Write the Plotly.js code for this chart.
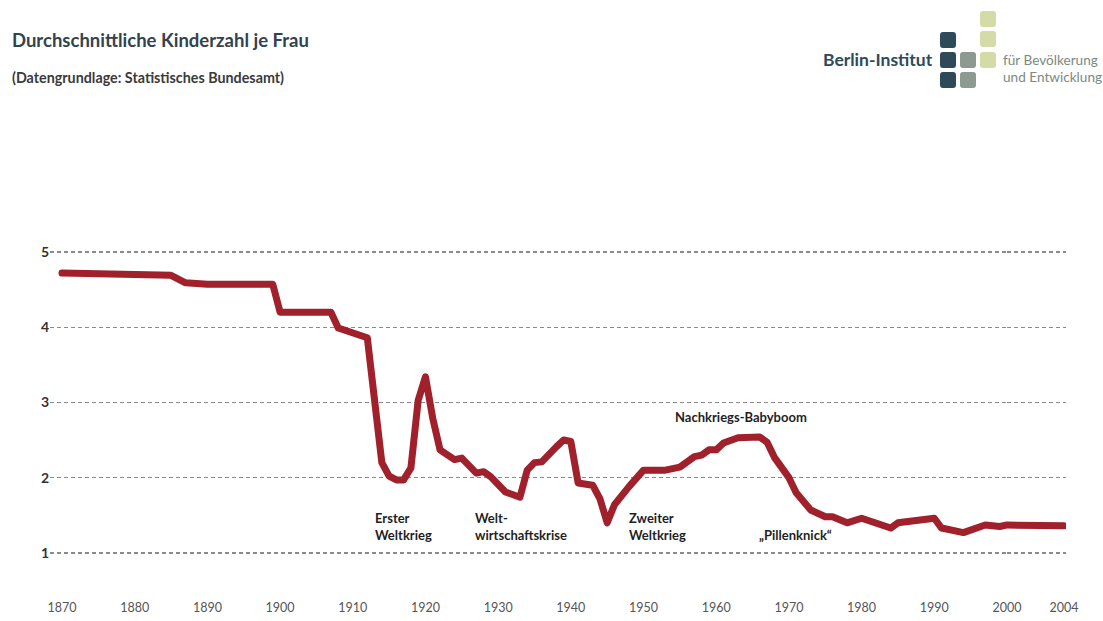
<!DOCTYPE html>
<html>
<head>
<meta charset="utf-8">
<script src="https://cdn.plot.ly/plotly-3.0.1.min.js"></script>
<style>
  html, body { margin: 0; padding: 0; background: #ffffff; }
  #chart { width: 1103px; height: 621px; }
  .js-line { stroke-linejoin: round !important; stroke-linecap: round !important; }
</style>
</head>
<body>
<div id="chart"></div>
<script>
// ---- Data ----
const years = [1870, 1885, 1887, 1890, 1899, 1900, 1907, 1908, 1912, 1914, 1915, 1916, 1917, 1918, 1919, 1920,
  1921, 1922, 1924, 1925, 1927, 1928, 1929, 1931, 1933, 1934, 1935, 1936, 1938, 1939, 1940, 1941, 1943, 1944,
  1945, 1946, 1948, 1950, 1953, 1955, 1957, 1958, 1959, 1960, 1961, 1963, 1966, 1967, 1968, 1970, 1971, 1973,
  1975, 1976, 1978, 1980, 1984, 1985, 1990, 1991, 1994, 1997, 1999, 2000, 2004];
const kinderzahl = [4.72, 4.69, 4.59, 4.57, 4.57, 4.20, 4.20, 3.99, 3.86, 2.20, 2.02, 1.97, 1.97, 2.13, 3.03, 3.34,
  2.79, 2.37, 2.24, 2.26, 2.06, 2.08, 2.01, 1.81, 1.74, 2.10, 2.20, 2.21, 2.41, 2.50, 2.48, 1.93, 1.90, 1.72,
  1.40, 1.64, 1.88, 2.10, 2.10, 2.14, 2.28, 2.30, 2.37, 2.37, 2.46, 2.53, 2.54, 2.47, 2.27, 2.00, 1.80, 1.57,
  1.48, 1.48, 1.40, 1.46, 1.33, 1.40, 1.46, 1.33, 1.27, 1.37, 1.35, 1.37, 1.36];
// The reference uses a wider scale for the last span 2000–2004 (broken axis)
const axisBreakYear = 2000;
const xTickVals = [1870, 1880, 1890, 1900, 1910, 1920, 1930, 1940, 1950, 1960, 1970, 1980, 1990, 2000];
const xTickText = ["1870", "1880", "1890", "1900", "1910", "1920", "1930", "1940", "1950", "1960", "1970", "1980", "1990", "2000"];
const x2TickVals = [2004];
const x2TickText = ["2004"];
const yTickVals = [1, 2, 3, 4, 5];
const yTickText = ["1", "2", "3", "4", "5"];
const eventLabels = ["Erster<br>Weltkrieg", "Welt-<br>wirtschaftskrise", "Zweiter<br>Weltkrieg", "Nachkriegs-Babyboom", "\u201EPillenknick\u201C"];
const eventYears = [1912.8, 1926.5, 1947.7, 1954.0, 1965.6];
const eventValues = [1.35, 1.35, 1.35, 2.81, 1.24];

// ---- Layout geometry ----
const W = 1103, H = 621;
const M = { l: 50, r: 37, t: 245, b: 26 };
const plotW = W - M.l - M.r, plotH = H - M.t - M.b;
const px = x => (x - M.l) / plotW;
const py = y => (H - M.b - y) / plotH;
const breakPaper = px(1007);

function roundRect(cx, cy, s, r) {
  const x0 = cx - s / 2, x1 = cx + s / 2, y0 = cy - s / 2, y1 = cy + s / 2;
  const P = (x, y) => px(x).toFixed(5) + ',' + py(y).toFixed(5);
  return 'M' + P(x0 + r, y0) + ' L' + P(x1 - r, y0) + ' Q' + P(x1, y0) + ' ' + P(x1, y0 + r) +
    ' L' + P(x1, y1 - r) + ' Q' + P(x1, y1) + ' ' + P(x1 - r, y1) +
    ' L' + P(x0 + r, y1) + ' Q' + P(x0, y1) + ' ' + P(x0, y1 - r) +
    ' L' + P(x0, y0 + r) + ' Q' + P(x0, y0) + ' ' + P(x0 + r, y0) + ' Z';
}
const logoSquares = [
  [948, 40, '#2e4a58'], [948, 60, '#2e4a58'], [948, 80, '#2e4a58'],
  [968, 60, '#8c9a90'], [968, 80, '#8c9a90'],
  [988, 19, '#d5dba6'], [988, 39, '#d5dba6'], [988, 60, '#d5dba6']
];
const shapes = logoSquares.map(s => ({
  type: 'path', xref: 'paper', yref: 'paper', path: roundRect(s[0], s[1], 16, 3),
  fillcolor: s[2], line: { width: 0 }
}));

const headerFont = 'Lato, "Open Sans", sans-serif';
const annotations = [
  { text: 'Durchschnittliche Kinderzahl je Frau', x: px(10), y: py(40), xanchor: 'left', yanchor: 'middle',
    font: { family: headerFont, size: 18.5, color: '#33434e', weight: 700 } },
  { text: '(Datengrundlage: Statistisches Bundesamt)', x: px(10), y: py(77), xanchor: 'left', yanchor: 'middle',
    font: { family: headerFont, size: 14.3, color: '#3a3a3a', weight: 700 } },
  { text: 'Berlin-Institut', x: px(935), y: py(59), xanchor: 'right', yanchor: 'middle',
    font: { family: headerFont, size: 17.5, color: '#2e4a58', weight: 700 } },
  { text: 'für Bevölkerung', x: px(1001), y: py(60), xanchor: 'left', yanchor: 'middle',
    font: { family: headerFont, size: 13.6, color: '#7b8a80' } },
  { text: 'und Entwicklung', x: px(1001), y: py(77), xanchor: 'left', yanchor: 'middle',
    font: { family: headerFont, size: 13.6, color: '#7b8a80' } }
].map(a => Object.assign({ xref: 'paper', yref: 'paper', showarrow: false, align: 'left' }, a));

eventLabels.forEach((t, i) => annotations.push({
  text: t, x: eventYears[i], y: eventValues[i], xref: 'x', yref: 'y', showarrow: false,
  xanchor: 'left', yanchor: 'middle', align: 'left',
  font: { family: headerFont, size: 13, color: '#1f1f1f', weight: 700 }
}));

const seg1 = years.map((y, i) => i).filter(i => years[i] <= axisBreakYear);
const seg2 = years.map((y, i) => i).filter(i => years[i] >= axisBreakYear);
const lineStyle = { color: '#a0202c', width: 7 };
const traces = [
  { x: seg1.map(i => years[i]), y: seg1.map(i => kinderzahl[i]), type: 'scatter', mode: 'lines',
    line: lineStyle, xaxis: 'x', yaxis: 'y' },
  { x: seg2.map(i => years[i]), y: seg2.map(i => kinderzahl[i]), type: 'scatter', mode: 'lines',
    line: lineStyle, xaxis: 'x2', yaxis: 'y' }
];

const tickFontX = { family: headerFont, size: 12.5, color: '#555555' };
const layout = {
  width: W, height: H,
  margin: M,
  paper_bgcolor: '#ffffff', plot_bgcolor: '#ffffff',
  showlegend: false,
  xaxis: {
    domain: [0, breakPaper], range: [1868.35, 2000], tickmode: 'array', tickvals: xTickVals, ticktext: xTickText,
    showgrid: false, zeroline: false, showline: false, ticks: '', tickangle: 0, anchor: 'y',
    ticklabelstandoff: 3, tickfont: tickFontX
  },
  xaxis2: {
    domain: [breakPaper, 1], range: [2000, 2004.14], tickmode: 'array', tickvals: x2TickVals, ticktext: x2TickText,
    showgrid: false, zeroline: false, showline: false, ticks: '', tickangle: 0, anchor: 'y',
    ticklabelstandoff: 3, tickfont: tickFontX
  },
  yaxis: {
    range: [0.44, 5.093], tickmode: 'array', tickvals: yTickVals, ticktext: yTickText, anchor: 'x',
    showgrid: true, gridcolor: '#8a8a8a', gridwidth: 1.4, griddash: '4px,3px',
    zeroline: false, showline: false, ticks: '',
    tickfont: { family: headerFont, size: 14, color: '#333333', weight: 700 }
  },
  shapes: shapes,
  annotations: annotations
};

Plotly.newPlot('chart', traces, layout, { displayModeBar: false, staticPlot: true });
</script>
</body>
</html>
